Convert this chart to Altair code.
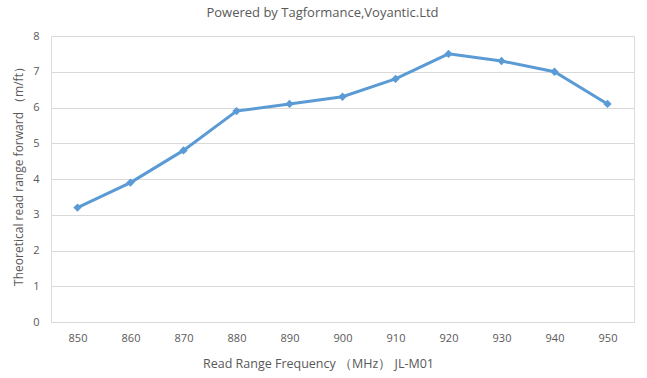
import altair as alt
import pandas as pd

freqs = ["850", "860", "870", "880", "890", "900", "910", "920", "930", "940", "950"]
ranges = [3.2, 3.9, 4.8, 5.9, 6.1, 6.3, 6.8, 7.5, 7.3, 7.0, 6.1]
y_ticks = [0, 1, 2, 3, 4, 5, 6, 7, 8]

df = pd.DataFrame({"freq": freqs, "range": ranges})

FONT = "Open Sans"
GREY = "#595959"

x = alt.X("freq:N", sort=freqs, scale=alt.Scale(type="point", padding=0.5),
          axis=alt.Axis(title="Read Range Frequency （MHz） JL-M01", labelAngle=0,
                        ticks=False, domain=True, domainColor="#D9D9D9", grid=False,
                        labelPadding=10, titlePadding=14, titleX=267,
                        labelFont=FONT, labelFontSize=11, labelColor=GREY,
                        titleFont=FONT, titleFontSize=12.5, titleFontWeight="normal", titleColor=GREY))
y = alt.Y("range:Q", scale=alt.Scale(domain=[0, 8], nice=False),
          axis=alt.Axis(title="Theoretical read range forward （m/ft）", values=y_ticks,
                        ticks=False, domain=False, grid=True, gridColor="#D9D9D9",
                        labelPadding=12, titlePadding=7, titleY=137,
                        labelFont=FONT, labelFontSize=11, labelColor=GREY,
                        titleFont=FONT, titleFontSize=12, titleFontWeight="normal", titleColor=GREY))

line = alt.Chart(df).mark_line(color="#5B9BD5", strokeWidth=3).encode(x=x, y=y)
pts = alt.Chart(df).mark_point(shape="diamond", filled=True, color="#5B9BD5", size=70, opacity=1).encode(x=x, y=y)

chart = alt.layer(line, pts).properties(
    width=583, height=286,
    autosize=alt.AutoSizeParams(type="none"),
    padding={"left": 51, "top": 36, "right": 13, "bottom": 56},
    title=alt.TitleParams("Powered by Tagformance,Voyantic.Ltd", font=FONT, fontSize=13,
                          fontWeight="normal", color=GREY, offset=10, dx=-20),
).configure_view(stroke=None).configure(background="white")

chart.save("out.html", embed_options={"renderer": "svg", "actions": False})
